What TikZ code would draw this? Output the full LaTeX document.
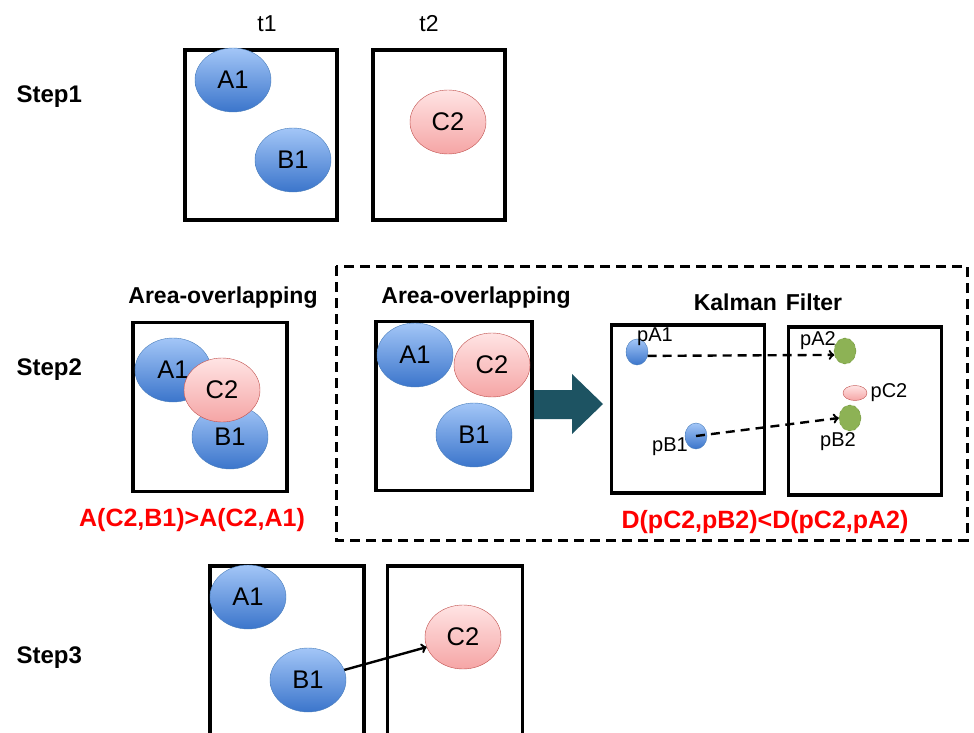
\documentclass[tikz,border=0pt]{standalone}
\usepackage{fontspec}
\setmainfont{Liberation Sans}
\usetikzlibrary{shapes,arrows,positioning,calc}

\definecolor{blobtop}{HTML}{A3C6F7}
\definecolor{blobbot}{HTML}{3B75CB}
\definecolor{blobline}{HTML}{4A7EBB}
\definecolor{pinktop}{HTML}{FFE4E4}
\definecolor{pinkbot}{HTML}{F5A5A5}
\definecolor{pinkline}{HTML}{C0504D}
\definecolor{greenfill}{HTML}{8DB255}
\definecolor{greenline}{HTML}{6A8E35}
\definecolor{arrowteal}{HTML}{1D5362}
\definecolor{labelred}{HTML}{FF0000}

\tikzset{
  frame/.style={draw, line width=3.4pt, inner sep=0pt},
  blueblob/.style={ellipse, draw=blobline, top color=blobtop, bottom color=blobbot,
    minimum width=76pt, minimum height=64pt, inner sep=0pt, font=\fontsize{25.5}{29}\selectfont},
  pinkblob/.style={blueblob, draw=pinkline, top color=pinktop, bottom color=pinkbot},
  bluedot/.style={ellipse, draw=blobline, top color=blobtop, bottom color=blobbot,
    minimum width=22pt, minimum height=26pt, inner sep=0pt},
  greendot/.style={ellipse, draw=greenline, dashed, fill=greenfill,
    minimum width=22pt, minimum height=26pt, inner sep=0pt},
  pinkdot/.style={ellipse, draw=pinkline, top color=pinktop, bottom color=pinkbot,
    minimum width=24pt, minimum height=15pt, inner sep=0pt},
  steplabel/.style={anchor=west, font=\bfseries\fontsize{24}{28}\selectfont},
  title/.style={font=\bfseries\fontsize{23}{27}\selectfont},
  result/.style={font=\bfseries\fontsize{25}{29}\selectfont, text=labelred},
  ptlabel/.style={font=\fontsize{20}{24}\selectfont, inner sep=0pt},
  track/.style={->, line width=2.4pt, dash pattern=on 9pt off 6pt}
}

\begin{document}
\begin{tikzpicture}[x=1pt, y=-1pt]

\useasboundingbox (0,0) rectangle (974,733);
\clip (0,0) rectangle (974,733);

% Step 1
\node[steplabel] (step1) at (13,97) {Step1};
\node[font=\fontsize{23}{27}\selectfont] (t1) at (267,24) {t1};
\node[font=\fontsize{23}{27}\selectfont] (t2) at (429,24) {t2};
\node[frame, minimum width=152pt, minimum height=170pt] (frame1a) at (261,135) {};
\node[frame, minimum width=132pt, minimum height=170pt] (frame1b) at (439,135) {};
\node[blueblob] (a1s1) at (233,80) {A1};
\node[blueblob] (b1s1) at (293,160) {B1};
\node[pinkblob] (c2s1) at (448,122) {C2};

% Step 2, area overlapping only
\node[steplabel] (step2) at (13,370) {Step2};
\node[title] (overlapa) at (223,298) {Area-overlapping};
\node[frame, minimum width=154pt, minimum height=169pt] (frame2a) at (210,407) {};
\node[blueblob] (a1s2) at (173,370) {A1};
\node[blueblob] (b1s2) at (230,437) {B1};
\node[pinkblob] (c2s2) at (222,390) {C2};
\node[result] (resulta) at (192,520) {A(C2,B1)>A(C2,A1)};

% Step 2, with Kalman filter
\draw[line width=3pt, dash pattern=on 10pt off 6pt] (336,266) rectangle (967,540);
\node[title] (overlapb) at (476,298) {Area-overlapping};
\node[frame, minimum width=156pt, minimum height=169pt] (frame2b) at (454,406) {};
\node[blueblob] (a1s2b) at (415,355) {A1};
\node[pinkblob] (c2s2b) at (492,365) {C2};
\node[blueblob] (b1s2b) at (474,435) {B1};

\fill[arrowteal] (534,390) -- (572,390) -- (572,374) -- (603,404) -- (572,434)
  -- (572,419) -- (534,419) -- cycle;

\node[title] (kalman) at (768,302) {Kalman\hspace{9pt}Filter};
\node[frame, minimum width=153pt, minimum height=168pt] (framek1) at (688,409) {};
\node[frame, minimum width=153pt, minimum height=168pt] (framek2) at (865,411) {};

\node[bluedot] (pa1) at (637,352) {};
\node[bluedot] (pb1) at (696,436) {};
\node[greendot] (pa2) at (845,351) {};
\node[pinkdot] (pc2) at (855,393) {};
\node[greendot] (pb2) at (850,418) {};
\node[ptlabel] (pa1lbl) at (655,337) {pA1};
\node[ptlabel] (pb1lbl) at (670,447) {pB1};
\node[ptlabel] (pa2lbl) at (818,341) {pA2};
\node[ptlabel] (pc2lbl) at (889,393) {pC2};
\node[ptlabel] (pb2lbl) at (838,442) {pB2};

\draw[track] (pa1.-20) -- (pa2.-160);
\draw[track] (pb1.center) -- (pb2.west);

\node[result] (resultb) at (765,522) {D(pC2,pB2)<D(pC2,pA2)};

% Step 3
\node[steplabel] (step3) at (13,658) {Step3};
\node[frame, minimum width=154pt, minimum height=190pt] (frame3a) at (287,661) {};
\node[frame, minimum width=135pt, minimum height=190pt] (frame3b) at (455,661) {};
\node[blueblob] (a1s3) at (248,597) {A1};
\node[blueblob] (b1s3) at (308,680) {B1};
\node[pinkblob] (c2s3) at (463,637) {C2};
\draw[->, line width=2.4pt] (b1s3) -- (c2s3);

\end{tikzpicture}
\end{document}
